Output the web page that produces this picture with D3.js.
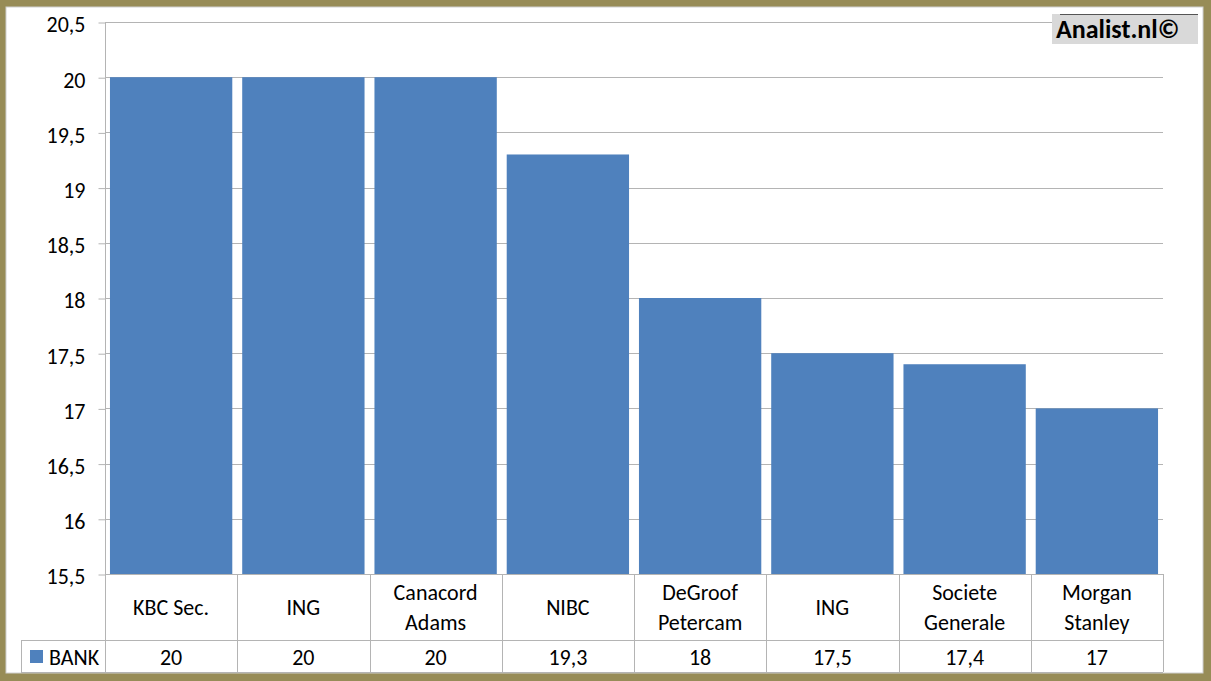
<!DOCTYPE html>
<html>
<head>
<meta charset="utf-8">
<script src="https://cdn.jsdelivr.net/npm/d3@7"></script>
<style>
  html, body { margin: 0; padding: 0; background: #fff; }
  svg { display: block; }
  text { font-family: Carlito, Lato, "Liberation Sans", sans-serif; fill: #000; }
</style>
</head>
<body>
<svg id="chart" width="1211" height="681"></svg>
<script>
// ---- data ----
const categories = [["KBC Sec."], ["ING"], ["Canacord", "Adams"], ["NIBC"], ["DeGroof", "Petercam"], ["ING"], ["Societe", "Generale"], ["Morgan", "Stanley"]];
const values = [20, 20, 20, 19.3, 18, 17.5, 17.4, 17];
const seriesName = "BANK";
const yTicks = [15.5, 16, 16.5, 17, 17.5, 18, 18.5, 19, 19.5, 20, 20.5];
const watermark = "Analist.nl©";

// ---- layout ----
const W = 1211, H = 681;
const plotL = 105, plotR = 1163, plotT = 22, plotB = 574;
const rowLine = 640, tableBottom = 672, legendL = 21;
const olive = "#978c57", grid = "#b4b4b4", bar = "#4f81bd";
const FS = 22;

const svg = d3.select("#chart");
const nl = d3.formatLocale({ decimal: ",", thousands: ".", grouping: [3], currency: ["€", ""] });
const fmt = v => nl.format("~g")(v);

// frame
svg.append("rect").attr("x", 0).attr("y", 0).attr("width", W).attr("height", H).attr("fill", olive);
svg.append("rect").attr("x", 6).attr("y", 7).attr("width", 1197).attr("height", 666).attr("fill", "#fff")
  .attr("stroke", "#cfcfcf").attr("stroke-width", 1);

const idx = categories.map((d, i) => i);
const x = d3.scaleBand().domain(idx).range([plotL, plotR]).paddingInner(0.075).paddingOuter(0.0375);
const y = d3.scaleLinear().domain([15.5, 20.5]).range([plotB, plotT]);

// gridlines
svg.append("g").selectAll("line").data(yTicks.slice(1)).join("line")
  .attr("x1", plotL).attr("x2", plotR)
  .attr("y1", d => Math.round(y(d)) + 0.5).attr("y2", d => Math.round(y(d)) + 0.5)
  .attr("stroke", grid).attr("stroke-width", 1);

// y axis
const yAxis = svg.append("g").attr("transform", `translate(${plotL + 0.5},0)`)
  .call(d3.axisLeft(y).tickValues(yTicks).tickFormat(fmt).tickSize(7).tickPadding(13));
yAxis.select(".domain").attr("stroke", grid).attr("d", `M0,${plotT}V${plotB}`);
yAxis.selectAll(".tick line").attr("stroke", grid).attr("transform", "translate(0,0.5)");
yAxis.selectAll(".tick text").attr("font-size", FS).attr("fill", "#000").attr("dy", "0.45em")
  .style("font-family", "Carlito, Lato, 'Liberation Sans', sans-serif");

// bars
svg.append("g").selectAll("rect").data(values).join("rect")
  .attr("x", (d, i) => x(i)).attr("width", x.bandwidth())
  .attr("y", d => y(d)).attr("height", d => y(15.5) - y(d))
  .attr("fill", bar);

// table
const step = x.step();
const tbl = svg.append("g").attr("stroke", grid).attr("stroke-width", 1);
tbl.append("line").attr("x1", plotL).attr("x2", plotR).attr("y1", plotB + 0.5).attr("y2", plotB + 0.5);
tbl.append("line").attr("x1", legendL).attr("x2", plotR).attr("y1", rowLine + 0.5).attr("y2", rowLine + 0.5);
tbl.append("line").attr("x1", legendL).attr("x2", plotR).attr("y1", tableBottom + 0.5).attr("y2", tableBottom + 0.5);
tbl.append("line").attr("x1", legendL + 0.5).attr("x2", legendL + 0.5).attr("y1", rowLine).attr("y2", tableBottom);
const bounds = d3.range(categories.length + 1).map(i => plotL + i * step);
tbl.selectAll("line.v").data(bounds).join("line").attr("class", "v")
  .attr("x1", d => Math.round(d) + 0.5).attr("x2", d => Math.round(d) + 0.5)
  .attr("y1", plotB).attr("y2", tableBottom);

// category labels
const cat = svg.append("g");
categories.forEach((lines, i) => {
  const cx = plotL + (i + 0.5) * step;
  const t = cat.append("text").attr("text-anchor", "middle").attr("font-size", FS);
  lines.forEach((ln, k) => {
    const cy = lines.length === 1 ? 607 : (k === 0 ? 592 : 622);
    t.append("tspan").attr("x", cx).attr("y", cy).attr("dy", "0.35em").text(ln);
  });
});

// value row
svg.append("g").selectAll("text").data(values).join("text")
  .attr("x", (d, i) => plotL + (i + 0.5) * step).attr("y", 657).attr("dy", "0.35em")
  .attr("text-anchor", "middle").attr("font-size", FS).text(d => fmt(d));

// legend
svg.append("rect").attr("x", 30).attr("y", 650).attr("width", 13).attr("height", 13).attr("fill", bar);
svg.append("text").attr("x", 49).attr("y", 657).attr("dy", "0.35em").attr("font-size", FS).text(seriesName);

// watermark
svg.append("rect").attr("x", 1052).attr("y", 14).attr("width", 146).attr("height", 30).attr("fill", "#d9d9d9");
svg.append("line").attr("x1", 1060).attr("x2", 1198).attr("y1", 14.5).attr("y2", 14.5).attr("stroke", "#555");
svg.append("text").attr("x", 1056).attr("y", 29).attr("dy", "0.36em").attr("font-size", 26)
  .attr("font-weight", "bold").text(watermark);
</script>
</body>
</html>
